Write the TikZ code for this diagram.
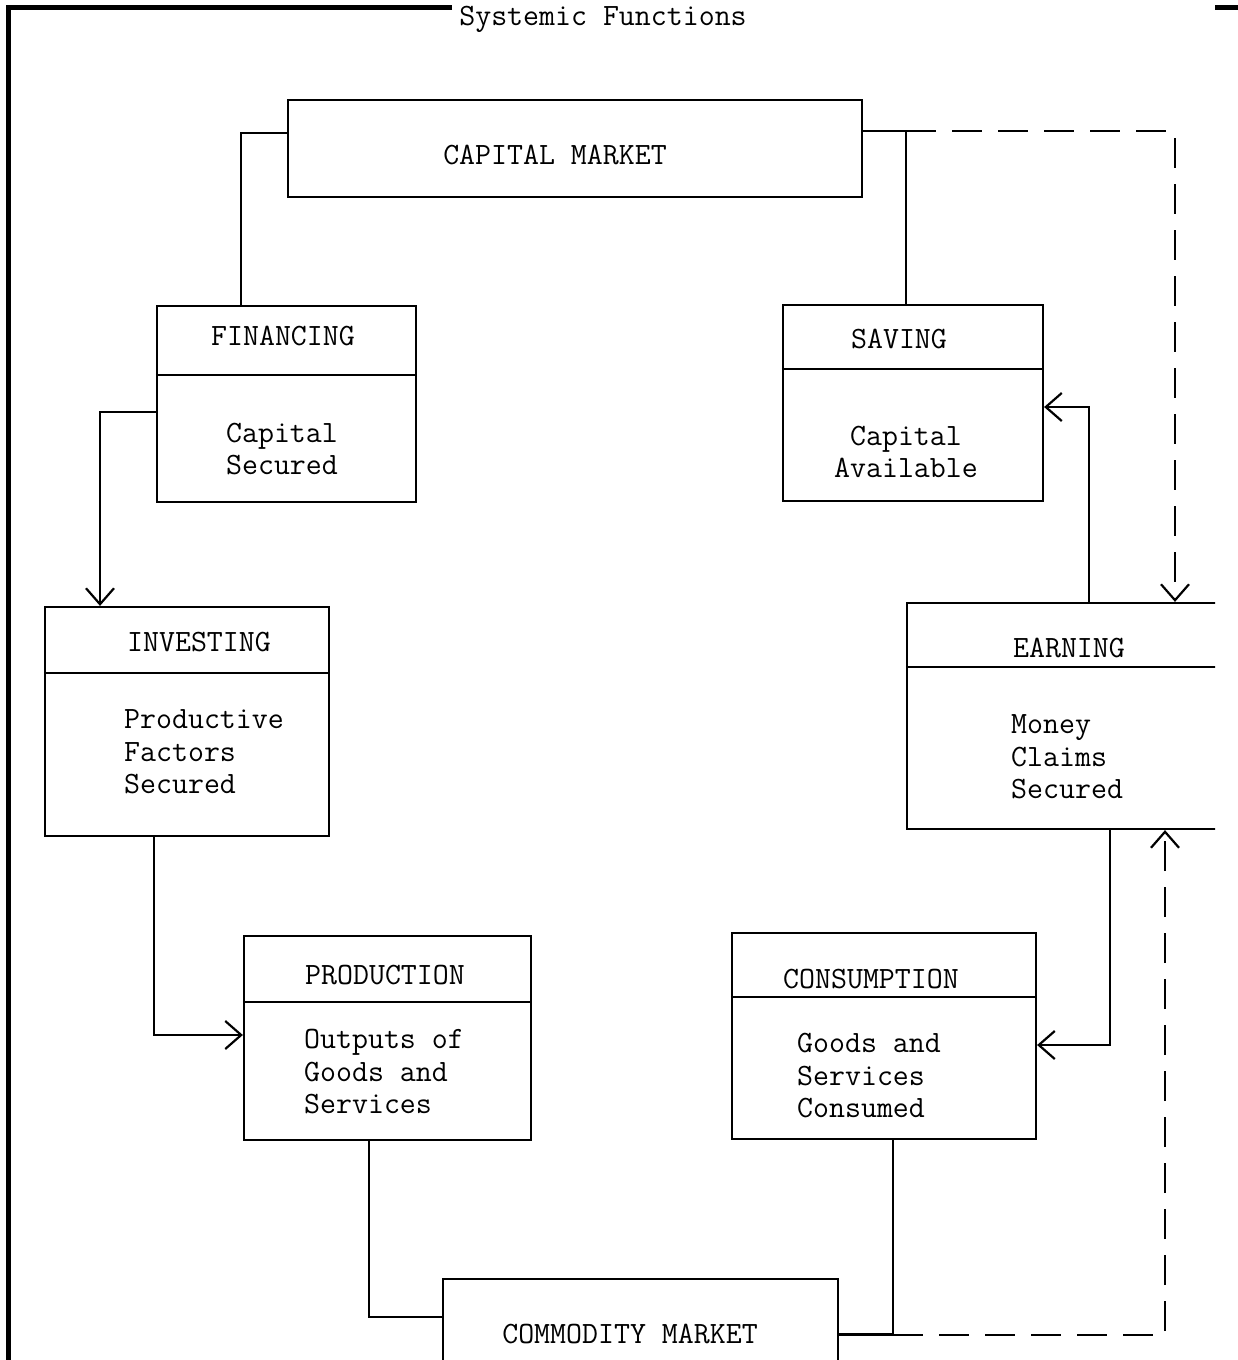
\documentclass[tikz,border=0pt]{standalone}
\usepackage{fontspec}
\usepackage{tikz}
\usetikzlibrary{arrows.meta}

\begin{document}
\begin{tikzpicture}[x=1pt,y=-1pt,
                    fbox/.style={draw,line width=2.2pt,inner sep=0pt},
                    txt/.style={inner sep=0pt,font=\fontsize{31}{32.5}\selectfont\ttfamily},
                    link/.style={line width=2.5pt},
                    arr/.style={-{Straight Barb[length=16pt,width=28pt,line width=2.2pt]}},
                    flow/.style={link,dash pattern=on 30pt off 16pt}]
  \useasboundingbox (0,0) rectangle (1238,1360);

  % frame and title
  \draw[line width=5pt] (452,7) -| (8,1360);
  \draw[line width=5pt] (1215,7) -- (1238,7);
  \node[txt] (title) at (603,19) {Systemic Functions};

  \begin{scope}
  \clip (0,0) rectangle (1215,1360);

  % markets
  \node[fbox,minimum width=574pt,minimum height=97pt] (cap) at (575,148.5) {};
  \node[fbox,minimum width=395pt,minimum height=111pt] (com) at (640.5,1334.5) {};
  \node[txt] at (555,155) {CAPITAL MARKET};
  \node[txt] at (630,1334) {COMMODITY MARKET};

  % functions
  \node[fbox,minimum width=259pt,minimum height=196pt] (fin) at (286.5,404) {};
  \node[fbox,minimum width=260pt,minimum height=196pt] (sav) at (913,403) {};
  \node[fbox,minimum width=284pt,minimum height=229pt] (inv) at (187,721.5) {};
  \node[fbox,minimum width=328pt,minimum height=226pt] (ear) at (1071,716) {};
  \node[fbox,minimum width=287pt,minimum height=204pt] (pro) at (387.5,1038) {};
  \node[fbox,minimum width=304pt,minimum height=206pt] (con) at (884,1036) {};

  % dividers
  \draw[line width=2.2pt] (fin.west |- 0,375) -- (fin.east |- 0,375);
  \draw[line width=2.2pt] (sav.west |- 0,369) -- (sav.east |- 0,369);
  \draw[line width=2.2pt] (inv.west |- 0,673) -- (inv.east |- 0,673);
  \draw[line width=2.2pt] (ear.west |- 0,667) -- (ear.east |- 0,667);
  \draw[line width=2.2pt] (pro.west |- 0,1002) -- (pro.east |- 0,1002);
  \draw[line width=2.2pt] (con.west |- 0,997) -- (con.east |- 0,997);

  % headings
  \node[txt] at (283,336) {FINANCING};
  \node[txt] at (899,339) {SAVING};
  \node[txt] at (199,642) {INVESTING};
  \node[txt] at (1069,648) {EARNING};
  \node[txt] at (385,975) {PRODUCTION};
  \node[txt] at (871,979) {CONSUMPTION};

  % contents
  \node[txt,align=center] at (282,449) {Capital\\Secured};
  \node[txt,align=center] at (906,452) {Capital\\Available};
  \node[txt,align=left,anchor=west] at (124,752) {Productive\\Factors\\Secured};
  \node[txt,align=left,anchor=west] at (1011,757) {Money\\Claims\\Secured};
  \node[txt,align=left,anchor=west] at (304,1072) {Outputs of\\Goods and\\Services};
  \node[txt,align=left,anchor=west] at (797,1076) {Goods and\\Services\\Consumed};

  % connectors
  \coordinate (sj) at (906,131);
  \coordinate (cj) at (893,1335);
  \draw[link] ([yshift=15.5pt]cap.west) -| ([xshift=-45.5pt]fin.north);
  \draw[link] ([yshift=17.5pt]cap.east) -| ([xshift=-7pt]sav.north);
  \draw[flow,arr] (sj) -| ([xshift=104pt]ear.north);
  \draw[link,arr] ([yshift=-8pt]fin.west) -| ([xshift=-87pt]inv.north);
  \draw[link,arr] ([xshift=-33pt]inv.south) |- ([yshift=3pt]pro.west);
  \draw[link] ([xshift=-18.5pt]pro.south) |- ([yshift=17.5pt]com.west);
  \draw[link] (com.east) -| ([xshift=9pt]con.south);
  \draw[flow,arr] (cj) -| ([xshift=94pt]ear.south);
  \draw[link,arr] ([xshift=39pt]ear.south) |- ([yshift=-9pt]con.east);
  \draw[link,arr] ([xshift=18pt]ear.north) |- ([yshift=-4pt]sav.east);
  \end{scope}
\end{tikzpicture}
\end{document}
